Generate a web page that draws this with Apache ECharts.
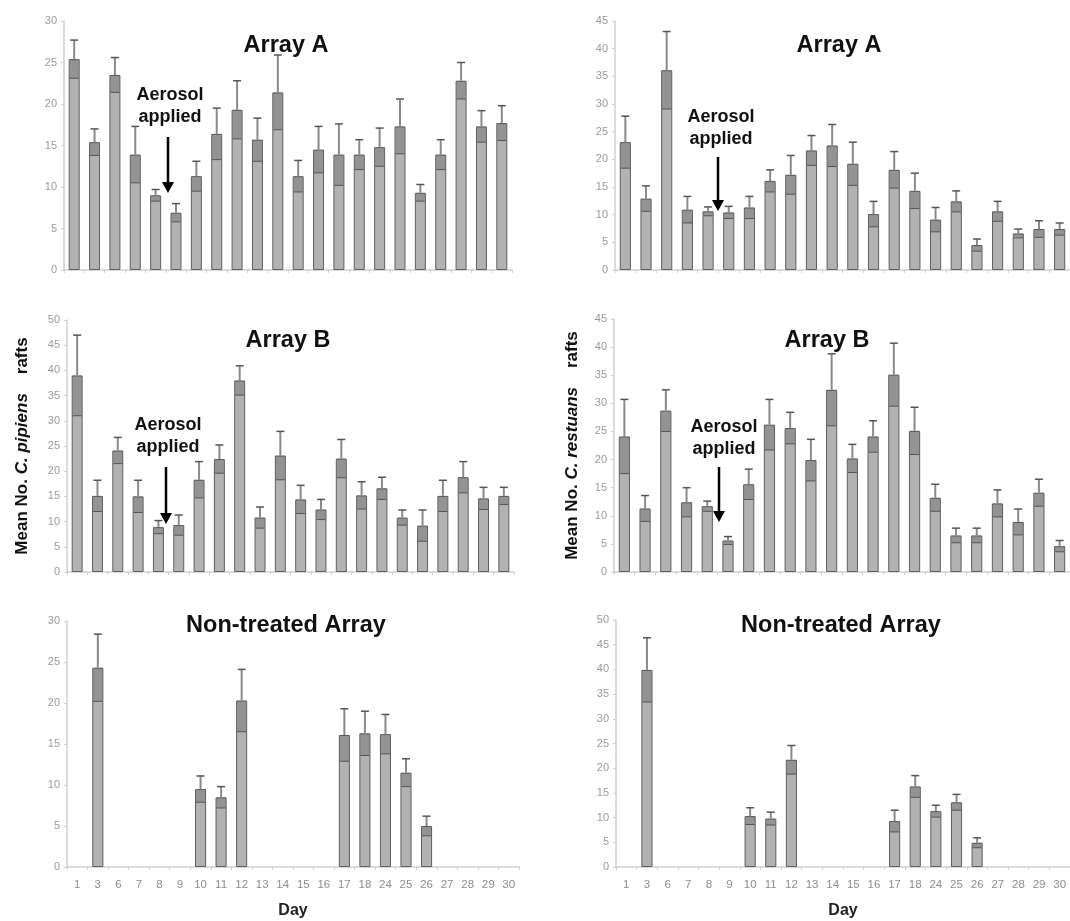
<!DOCTYPE html>
<html>
<head>
<meta charset="utf-8">
<script src="https://cdn.jsdelivr.net/npm/echarts@6/dist/echarts.min.js"></script>
<style>
html,body{margin:0;padding:0;background:#fff;}
#chart{width:1070px;height:921px;}
</style>
</head>
<body>
<div id="chart"></div>
<script>
// ---- data ----
const days = ['1','3','6','7','8','9','10','11','12','13','14','15','16','17','18','24','25','26','27','28','29','30'];

const pipA    = [25.4,15.4,23.5,13.9,9.0,6.9,11.3,16.4,19.3,15.7,21.4,11.3,14.5,13.9,13.9,14.8,17.3,9.3,13.9,22.8,17.3,17.7];
const pipA_se = [2.3,1.6,2.1,3.4,0.7,1.1,1.8,3.1,3.5,2.6,4.5,1.9,2.8,3.7,1.8,2.3,3.3,1.0,1.8,2.2,1.9,2.1];

const resA    = [23.1,12.9,36.1,10.9,10.6,10.4,11.3,16.1,17.2,21.6,22.5,19.2,10.1,18.1,14.3,9.1,12.4,4.5,10.6,6.6,7.4,7.4];
const resA_se = [4.7,2.3,7.0,2.4,0.8,1.1,2.0,2.0,3.5,2.7,3.8,3.9,2.3,3.3,3.2,2.2,1.9,1.1,1.8,0.8,1.5,1.1];

const pipB    = [39.0,15.1,24.1,15.0,8.9,9.3,18.3,22.4,38.0,10.8,23.1,14.4,12.4,22.5,15.2,16.6,10.8,9.2,15.1,18.8,14.6,15.1];
const pipB_se = [8.0,3.1,2.6,3.2,1.3,2.0,3.6,2.8,2.9,2.1,4.8,2.8,2.0,3.8,2.7,2.2,1.5,3.1,3.1,3.1,2.2,1.7];

const resB    = [24.1,11.3,28.7,12.4,11.7,5.6,15.6,26.2,25.6,19.9,32.4,20.2,24.1,35.1,25.1,13.2,6.5,6.5,12.2,8.9,14.1,4.6];
const resB_se = [6.6,2.3,3.7,2.6,0.9,0.7,2.7,4.5,2.8,3.7,6.4,2.5,2.8,5.6,4.2,2.4,1.3,1.3,2.4,2.3,2.4,1.0];

const pipN    = [null,24.3,null,null,null,null,9.5,8.5,20.3,null,null,null,null,16.1,16.3,16.2,11.5,5.0,null,null,null,null];
const pipN_se = [null,4.1,null,null,null,null,1.6,1.3,3.8,null,null,null,null,3.2,2.7,2.4,1.7,1.2,null,null,null,null];

const resN    = [null,39.9,null,null,null,null,10.3,9.8,21.7,null,null,null,null,9.3,16.3,11.3,13.1,4.9,null,null,null,null];
const resN_se = [null,6.5,null,null,null,null,1.7,1.3,2.9,null,null,null,null,2.2,2.2,1.2,1.6,1.0,null,null,null,null];

const panelTitles = ['Array A','Array A','Array B','Array B','Non-treated Array','Non-treated Array'];
const yMax = [30,45,50,45,30,50];
const annotationText = 'Aerosol\napplied';
const xAxisTitle = 'Day';

// ---- layout ----
const grids = [
  {left:64,  top:21,  width:448, height:249},
  {left:615, top:21,  width:455, height:249},
  {left:67,  top:320, width:447, height:252},
  {left:614, top:319, width:456, height:253},
  {left:67,  top:621, width:452, height:246},
  {left:616, top:620, width:456, height:247}
];
const values = [pipA,resA,pipB,resB,pipN,resN];
const errs = [pipA_se,resA_se,pipB_se,resB_se,pipN_se,resN_se];

const FONT = '"Liberation Sans", Arial, sans-serif';

function errRender(params, api){
  const v = api.value(1);
  const se = api.value(2);
  if (v == null || isNaN(v)) return;
  const x = api.value(0);
  const pm = api.coord([x, v]);
  const pt = api.coord([x, v + se]);
  const pl = api.coord([x, v - se]);
  const bw = api.size([1, 0])[0] * 0.54;
  const cx = pm[0];
  return {
    type:'group',
    children:[
      {type:'rect', shape:{x:cx - bw/2 + 1, y:pm[1], width:bw - 2, height:pl[1]-pm[1]},
       style:{fill:'rgba(70,70,70,0.28)'}},
      {type:'line', shape:{x1:cx - bw/2 + 1, y1:pl[1], x2:cx + bw/2 - 1, y2:pl[1]},
       style:{stroke:'#555', lineWidth:1}},
      {type:'line', shape:{x1:cx, y1:pm[1], x2:cx, y2:pt[1]},
       style:{stroke:'#8a8a8a', lineWidth:2}},
      {type:'line', shape:{x1:cx - 4, y1:pt[1], x2:cx + 4, y2:pt[1]},
       style:{stroke:'#555', lineWidth:1.5}}
    ]
  };
}

const xAxes = [], yAxes = [], series = [], titles = [];
for (let i = 0; i < 6; i++) {
  const bottom = i >= 4;
  xAxes.push({
    type:'category', gridIndex:i, data:days,
    axisLine:{lineStyle:{color:'#cfcfcf', width:1.5}},
    axisTick:{show:true, alignWithLabel:false, length:3, lineStyle:{color:'#cfcfcf'}},
    axisLabel:{show:bottom, color:'#8c8c8c', fontSize:11.5, fontFamily:FONT, margin:12, interval:0},
    name: bottom ? xAxisTitle : '',
    nameLocation:'middle', nameGap:36,
    nameTextStyle:{color:'#222', fontSize:16, fontWeight:'bold', fontFamily:FONT}
  });
  let yName = '';
  if (i === 2) yName = '{b|Mean No. }{i|C. pipiens}{b|    rafts}';
  if (i === 3) yName = '{b|Mean No. }{i|C. restuans}{b|    rafts}';
  const rich = {
    b:{fontSize:17, fontWeight:'bold', color:'#111', fontFamily:FONT},
    i:{fontSize:17, fontWeight:'bold', fontStyle:'italic', color:'#111', fontFamily:FONT}
  };
  yAxes.push({
    type:'value', gridIndex:i, min:0, max:yMax[i], interval:5,
    axisLine:{show:true, lineStyle:{color:'#cfcfcf', width:1.5}},
    axisTick:{show:true, length:3, lineStyle:{color:'#cfcfcf'}},
    splitLine:{show:false},
    axisLabel:{color:'#9a9a9a', fontSize:11, fontFamily:FONT, margin:7},
    name:yName, nameLocation:'middle', nameRotate:90, nameGap:i === 2 ? 36 : 33,
    nameTextStyle:{rich:rich}
  });
  series.push({
    type:'bar', xAxisIndex:i, yAxisIndex:i, data:values[i], barWidth:'54%',
    itemStyle:{color:'#b2b2b2', borderColor:'#5f5f5f', borderWidth:1},
    animation:false, silent:true
  });
  series.push({
    type:'custom', xAxisIndex:i, yAxisIndex:i,
    data: values[i].map((v, k) => [k, v, errs[i][k]]),
    renderItem: errRender, z:5, animation:false, silent:true
  });
}

const titlePos = [[281,29],[834,29],[283,324],[822,324],[281,609],[836,609]];
for (let i = 0; i < 6; i++) {
  titles.push({
    text: panelTitles[i], left: titlePos[i][0], top: titlePos[i][1], textAlign:'center',
    textStyle:{fontSize:23.5, fontWeight:'bold', color:'#111', fontFamily:FONT}
  });
}

// annotation: "Aerosol applied" + arrow (text center x, text top y, arrow x, arrow y1, arrow y2)
const ann = [
  [170, 84, 168, 137, 193],
  [721, 106, 718, 157, 211],
  [168, 414, 166, 467, 524],
  [724, 416, 719, 467, 522]
];
const graphic = [];
ann.forEach(a => {
  graphic.push({type:'text', left:a[0]-50, top:a[1], style:{text:annotationText, x:0, y:0,
    width:100, textAlign:'center', font:'bold 18px ' + FONT, fill:'#111', lineHeight:22}});
  graphic.push({type:'line', shape:{x1:a[2], y1:a[3], x2:a[2], y2:a[4]-9}, style:{stroke:'#000', lineWidth:2.5}});
  graphic.push({type:'polygon', shape:{points:[[a[2]-6, a[4]-11],[a[2]+6, a[4]-11],[a[2], a[4]]]}, style:{fill:'#000'}});
});

const option = {
  backgroundColor:'#fff',
  animation:false,
  title: titles,
  grid: grids,
  xAxis: xAxes,
  yAxis: yAxes,
  series: series,
  graphic: graphic
};
const chart = echarts.init(document.getElementById('chart'), null, {renderer:'canvas'});
chart.setOption(option);
</script>
</body>
</html>
